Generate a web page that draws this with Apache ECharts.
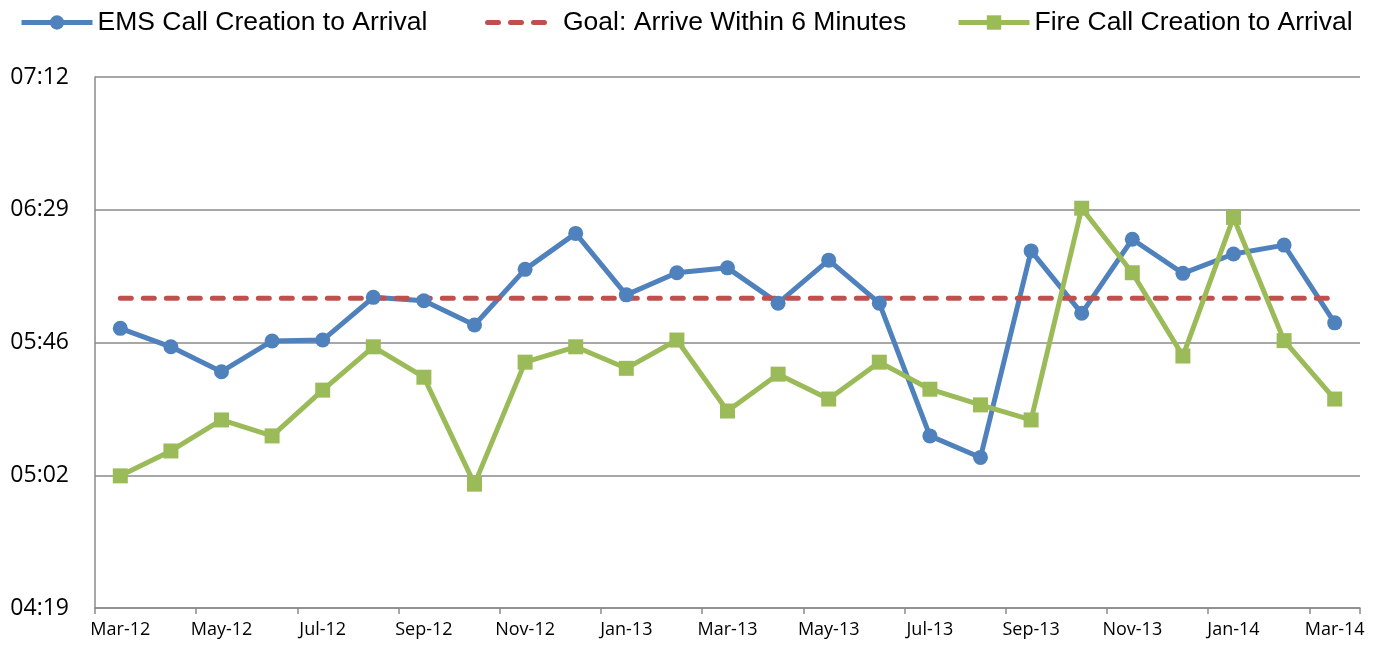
<!DOCTYPE html>
<html>
<head>
<meta charset="utf-8">
<script src="https://cdn.jsdelivr.net/npm/echarts@6/dist/echarts.min.js"></script>
<style>
  html, body { margin: 0; padding: 0; background: #fff; }
  #response_chart { width: 1383px; height: 648px; }
</style>
</head>
<body>
<div id="response_chart"></div>
<script>
  // months shown on the category axis
  let months = [
    'Mar-12', 'Apr-12', 'May-12', 'Jun-12', 'Jul-12', 'Aug-12', 'Sep-12', 'Oct-12', 'Nov-12',
    'Dec-12', 'Jan-13', 'Feb-13', 'Mar-13', 'Apr-13', 'May-13', 'Jun-13', 'Jul-13', 'Aug-13',
    'Sep-13', 'Oct-13', 'Nov-13', 'Dec-13', 'Jan-14', 'Feb-14', 'Mar-14'
  ]

  // times in seconds
  let emsSeconds = [
    350.2, 344.2, 336.1, 346.1, 346.4, 360.3, 359.2, 351.3, 369.4,
    381.1, 361.1, 368.3, 369.9, 358.4, 372.4, 358.4, 315.2, 308.2,
    375.4, 355.1, 379.2, 368.1, 374.4, 377.3, 352.0
  ]
  let goalSeconds = [
    360, 360, 360, 360, 360, 360, 360, 360, 360,
    360, 360, 360, 360, 360, 360, 360, 360, 360,
    360, 360, 360, 360, 360, 360, 360
  ]
  let fireSeconds = [
    302.2, 310.3, 320.4, 315.2, 330.1, 344.2, 334.3, 299.5, 339.2,
    344.2, 337.2, 346.4, 323.3, 335.3, 327.2, 339.2, 330.4, 325.3,
    320.4, 389.3, 368.3, 341.2, 386.3, 346.2, 327.2
  ]

  // y axis: 04:19 .. 07:12 every 43.2 s (Excel day fractions 0.003 .. 0.005)
  let yMin = 259.2
  let yMax = 432
  let yStep = 43.2

  function mmss (v) {
    let s = Math.round(v)
    let m = Math.floor(s / 60)
    let r = s % 60
    return (m < 10 ? '0' : '') + m + ':' + (r < 10 ? '0' : '') + r
  }

  let gray = '#8a8a8a'
  let legendText = {
    fontFamily: 'Liberation Sans, Arial, sans-serif',
    fontSize: 26.5,
    color: '#000'
  }
  // three short rounded dashes for the goal legend icon
  let dashIcon = 'path://M2.5,0h11a2.5,2.5 0 0 1 0,5h-11a2.5,2.5 0 0 1 0,-5z' +
    'M25.5,0h11a2.5,2.5 0 0 1 0,5h-11a2.5,2.5 0 0 1 0,-5z' +
    'M48.5,0h11a2.5,2.5 0 0 1 0,5h-11a2.5,2.5 0 0 1 0,-5z'

  let chart = echarts.init(document.getElementById('response_chart'))
  let option = {
    animation: false,
    backgroundColor: '#fff',
    legend: [{
      data: ['EMS Call Creation to Arrival'],
      left: 19,
      top: 9,
      padding: 0,
      itemWidth: 71,
      itemHeight: 18,
      lineStyle: {width: 5},
      textStyle: legendText
    }, {
      data: [{name: 'Goal: Arrive Within 6 Minutes', icon: dashIcon}],
      left: 485,
      top: 9,
      padding: 0,
      itemWidth: 62,
      itemHeight: 5,
      textStyle: Object.assign({padding: [0, 0, 0, 11]}, legendText)
    }, {
      data: ['Fire Call Creation to Arrival'],
      left: 956,
      top: 9,
      padding: 0,
      itemWidth: 71,
      itemHeight: 18,
      lineStyle: {width: 5},
      textStyle: legendText
    }],
    grid: {
      left: 95,
      right: 23,
      top: 77,
      bottom: 40
    },
    xAxis: {
      type: 'category',
      data: months,
      boundaryGap: true,
      axisLine: {lineStyle: {color: gray, width: 1.5}},
      axisTick: {show: true, interval: 1, length: 6, lineStyle: {color: gray, width: 1.5}},
      axisLabel: {
        interval: 1,
        margin: 13,
        color: '#000',
        fontFamily: 'Open Sans, sans-serif',
        fontSize: 18
      },
      splitLine: {show: false}
    },
    yAxis: {
      type: 'value',
      min: yMin,
      max: yMax,
      interval: yStep,
      axisLine: {show: true, lineStyle: {color: gray, width: 1.5}},
      axisTick: {show: false},
      axisLabel: {
        margin: 26,
        color: '#000',
        fontFamily: 'Open Sans, sans-serif',
        fontSize: 23,
        formatter: mmss
      },
      splitLine: {lineStyle: {color: gray, width: 1.5}}
    },
    series: [{
      name: 'EMS Call Creation to Arrival',
      type: 'line',
      data: emsSeconds,
      symbol: 'circle',
      symbolSize: 15,
      itemStyle: {color: '#4F81BD'},
      lineStyle: {color: '#4F81BD', width: 5}
    }, {
      name: 'Goal: Arrive Within 6 Minutes',
      type: 'line',
      data: goalSeconds,
      symbol: 'none',
      itemStyle: {color: '#C0504D'},
      lineStyle: {color: '#C0504D', width: 5, type: [11, 12], cap: 'round'}
    }, {
      name: 'Fire Call Creation to Arrival',
      type: 'line',
      data: fireSeconds,
      symbol: 'rect',
      symbolSize: 15,
      itemStyle: {color: '#9BBB59'},
      lineStyle: {color: '#9BBB59', width: 5}
    }]
  }
  chart.setOption(option)
</script>
</body>
</html>
